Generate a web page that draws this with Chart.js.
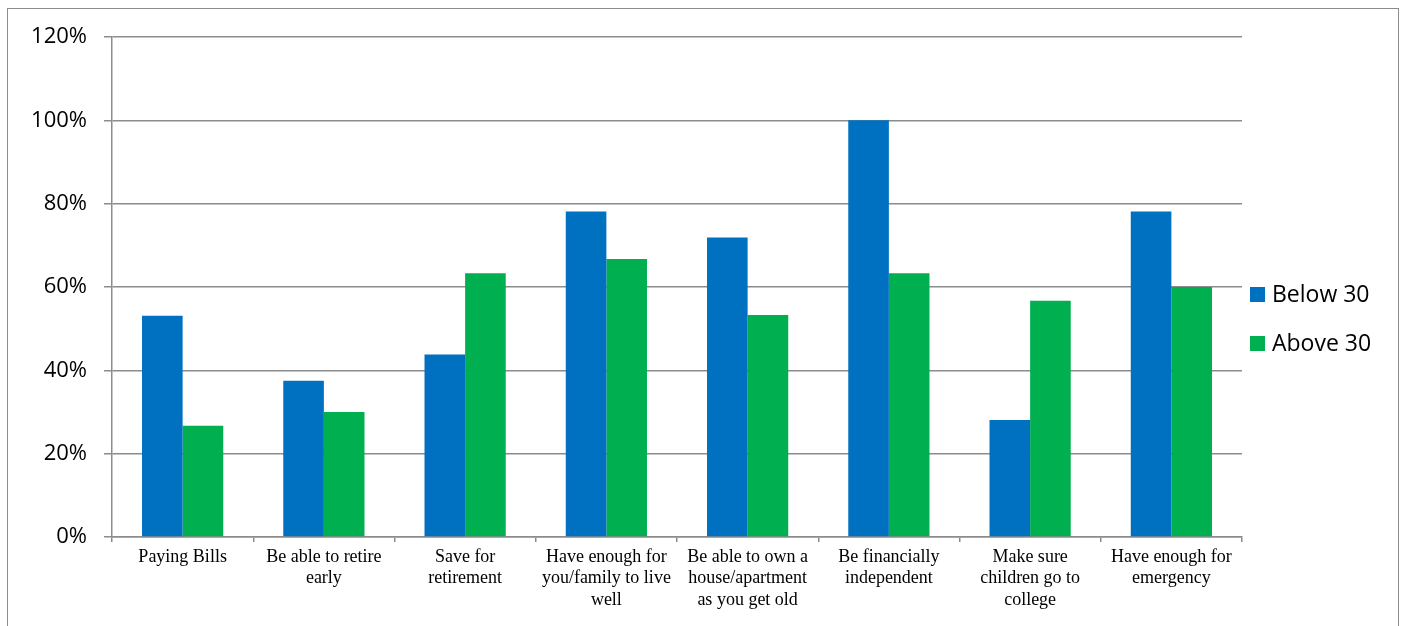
<!DOCTYPE html>
<html>
<head>
<meta charset="utf-8">
<script src="https://cdn.jsdelivr.net/npm/chart.js@4"></script>
<style>
  html, body { margin: 0; padding: 0; background: #fff; overflow: hidden; }
  #chart { position: absolute; left: 0; top: 0; }
  #frame { position: absolute; left: 7px; top: 8px; width: 1390px; height: 640px; border: 1px solid #8c8c8c; pointer-events: none; }
</style>
</head>
<body>
<canvas id="chart" width="1403" height="626"></canvas>
<div id="frame"></div>
<script>
const categories = [
  ['Paying Bills'],
  ['Be able to retire', 'early'],
  ['Save for', 'retirement'],
  ['Have enough for', 'you/family to live', 'well'],
  ['Be able to own a', 'house/apartment', 'as you get old'],
  ['Be financially', 'independent'],
  ['Make sure', 'children go to', 'college'],
  ['Have enough for', 'emergency']
];
const below30 = [53.1, 37.5, 43.8, 78.1, 71.9, 100, 28.1, 78.1];
const above30 = [26.7, 30.0, 63.3, 66.7, 53.3, 63.3, 56.7, 60.0];
const yTicks = [0, 20, 40, 60, 80, 100, 120];

const AXIS_GRAY = '#8c8c8c';
const SANS = "'Open Sans', 'Liberation Sans', sans-serif";

// legend drawn to the right of the plot, stacked under its vertical centre
const sideLegend = {
  id: 'sideLegend',
  afterDraw(chart) {
    const { ctx, chartArea } = chart;
    const x = chartArea.right + 8;
    let y = (chartArea.top + chartArea.bottom) / 2;
    ctx.save();
    ctx.font = '23px ' + SANS;
    ctx.textBaseline = 'middle';
    chart.data.datasets.forEach(ds => {
      ctx.fillStyle = ds.backgroundColor;
      ctx.fillRect(x, y, 15, 15);
      ctx.fillStyle = '#000';
      ctx.fillText(ds.label, x + 22, y + 8);
      y += 49;
    });
    ctx.restore();
  }
};

new Chart(document.getElementById('chart'), {
  type: 'bar',
  data: {
    labels: categories,
    datasets: [
      { label: 'Below 30', data: below30, backgroundColor: '#0070C0' },
      { label: 'Above 30', data: above30, backgroundColor: '#00B050' }
    ]
  },
  options: {
    responsive: false,
    animation: false,
    layout: { padding: { top: 37, right: 161, left: 0, bottom: 0 } },
    datasets: {
      bar: { categoryPercentage: 0.575, barPercentage: 1.0 }
    },
    plugins: {
      legend: { display: false },
      tooltip: { enabled: false }
    },
    scales: {
      x: {
        afterFit: (scale) => { scale.height = 89; },
        border: { display: true, color: AXIS_GRAY, width: 1.5 },
        grid: { display: true, drawOnChartArea: false, drawTicks: true, tickLength: 5, color: AXIS_GRAY, lineWidth: 1.5, offset: true },
        ticks: {
          color: '#000',
          padding: 4,
          maxRotation: 0,
          autoSkip: false,
          font: { family: "'Liberation Serif', 'Times New Roman', serif", size: 18, lineHeight: 1.2 }
        }
      },
      y: {
        min: 0,
        max: 120,
        afterFit: (scale) => { scale.width = 112; },
        afterBuildTicks: (scale) => { scale.ticks = yTicks.map(v => ({ value: v })); },
        border: { display: true, color: AXIS_GRAY, width: 1.5 },
        grid: { color: AXIS_GRAY, lineWidth: 1.5, tickLength: 8 },
        ticks: {
          color: '#000',
          padding: 17,
          font: { family: SANS, size: 22 },
          callback: (v) => v + '%'
        }
      }
    }
  },
  plugins: [sideLegend]
});
</script>
</body>
</html>
